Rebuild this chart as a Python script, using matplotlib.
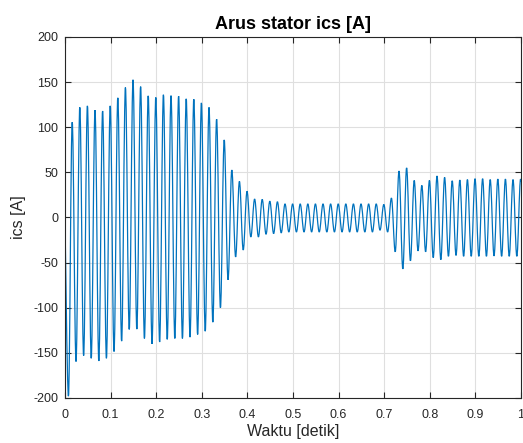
import numpy as np
import matplotlib
matplotlib.use("Agg")
from matplotlib import pyplot as plt
from matplotlib.path import Path
from matplotlib.patches import PathPatch

# frekuensi arus (60 Hz) dan posisi puncak pertama
freq = 60.0
t_neg0 = 0.0075
t_pos0 = 0.0158

# puncak positif tiap periode
pos_peaks = [105.6, 122, 123.7, 119, 118, 123.7, 132.6, 144, 152.6, 145,
             134.8, 133, 136, 135, 134.5, 131.5, 131, 127, 122, 109,
             86, 52.6, 40, 29, 20.4, 20, 18, 17.4, 15, 15,
             15, 15, 15, 15, 15, 15, 15, 15, 15, 15,
             15, 14.4, 21.5, 51.5, 55, 41, 35.5, 41, 46, 44.4,
             40.7, 41.5, 42, 43, 43, 42, 42.6, 42.6, 42, 42.6]

# puncak negatif tiap periode
neg_peaks = [-198, -159.6, -153, -156, -159, -156, -148.5, -137, -124, -123.7,
             -134, -140, -138, -135, -134, -134, -132.6, -129.6, -126, -116,
             -100, -69, -43.7, -36, -21.5, -21.5, -18.5, -17.8, -17, -16,
             -16, -16, -16, -16, -16, -16, -16, -16, -16, -16,
             -16, -14, -16, -38, -57, -48, -37, -38, -44.4, -46.7,
             -43, -42, -43, -43, -43, -43, -42.6, -43, -43, -43]

if __name__ == '__main__':
    plt.rcParams['font.family'] = ['Liberation Sans', 'DejaVu Sans']
    plt.rcParams['axes.unicode_minus'] = False

    # titik-titik ekstrem bergantian: negatif, positif, ...
    t = [0.0]
    y = [0.0]
    for k in range(len(pos_peaks)):
        t.append(t_neg0 + k / freq)
        y.append(neg_peaks[k])
        t.append(t_pos0 + k / freq)
        y.append(pos_peaks[k])
    t.append(1.0)
    y.append(40.0)

    # kurva bezier antar puncak supaya ujungnya membulat seperti sinus
    c = 0.364
    verts = [(t[0], y[0])]
    codes = [Path.MOVETO]
    for i in range(1, len(t)):
        h = t[i] - t[i - 1]
        c0 = 0.0 if i == 1 else c
        c1 = 0.0 if i == len(t) - 1 else c
        verts += [(t[i - 1] + c0 * h, y[i - 1]), (t[i] - c1 * h, y[i]), (t[i], y[i])]
        codes += [Path.CURVE4] * 3

    fig = plt.figure(figsize=(5.23, 4.43), dpi=100)
    ax = fig.add_axes([0.1243, 0.1016, 0.8719, 0.8149])
    ax.add_patch(PathPatch(Path(verts, codes), facecolor='none',
                           edgecolor='#0072BD', linewidth=0.9))

    ax.set_xlim(0, 1)
    ax.set_ylim(-200, 200)
    ax.set_xticks(np.arange(0, 1.01, 0.1))
    ax.set_xticklabels(['0', '0.1', '0.2', '0.3', '0.4', '0.5', '0.6', '0.7', '0.8', '0.9', '1'])
    ax.set_yticks(np.arange(-200, 201, 50))

    ax.grid(True, color='#dfdfdf', linewidth=0.8)
    ax.set_axisbelow(True)
    ax.tick_params(direction='in', top=True, right=True, length=4,
                   labelsize=9, colors='#262626', width=0.8)
    ax.tick_params(axis='y', pad=5)
    ax.tick_params(axis='x', pad=8)
    for s in ax.spines.values():
        s.set_color('#262626')
        s.set_linewidth(0.8)

    ax.set_title('Arus stator ics [A]', fontsize=13, fontweight='bold', pad=6)
    ax.set_xlabel('Waktu [detik]', fontsize=11.5, color='#262626', labelpad=2)
    ax.set_ylabel('ics [A]', fontsize=11.5, color='#262626', labelpad=5)

    fig.savefig('out.png', dpi=100)
